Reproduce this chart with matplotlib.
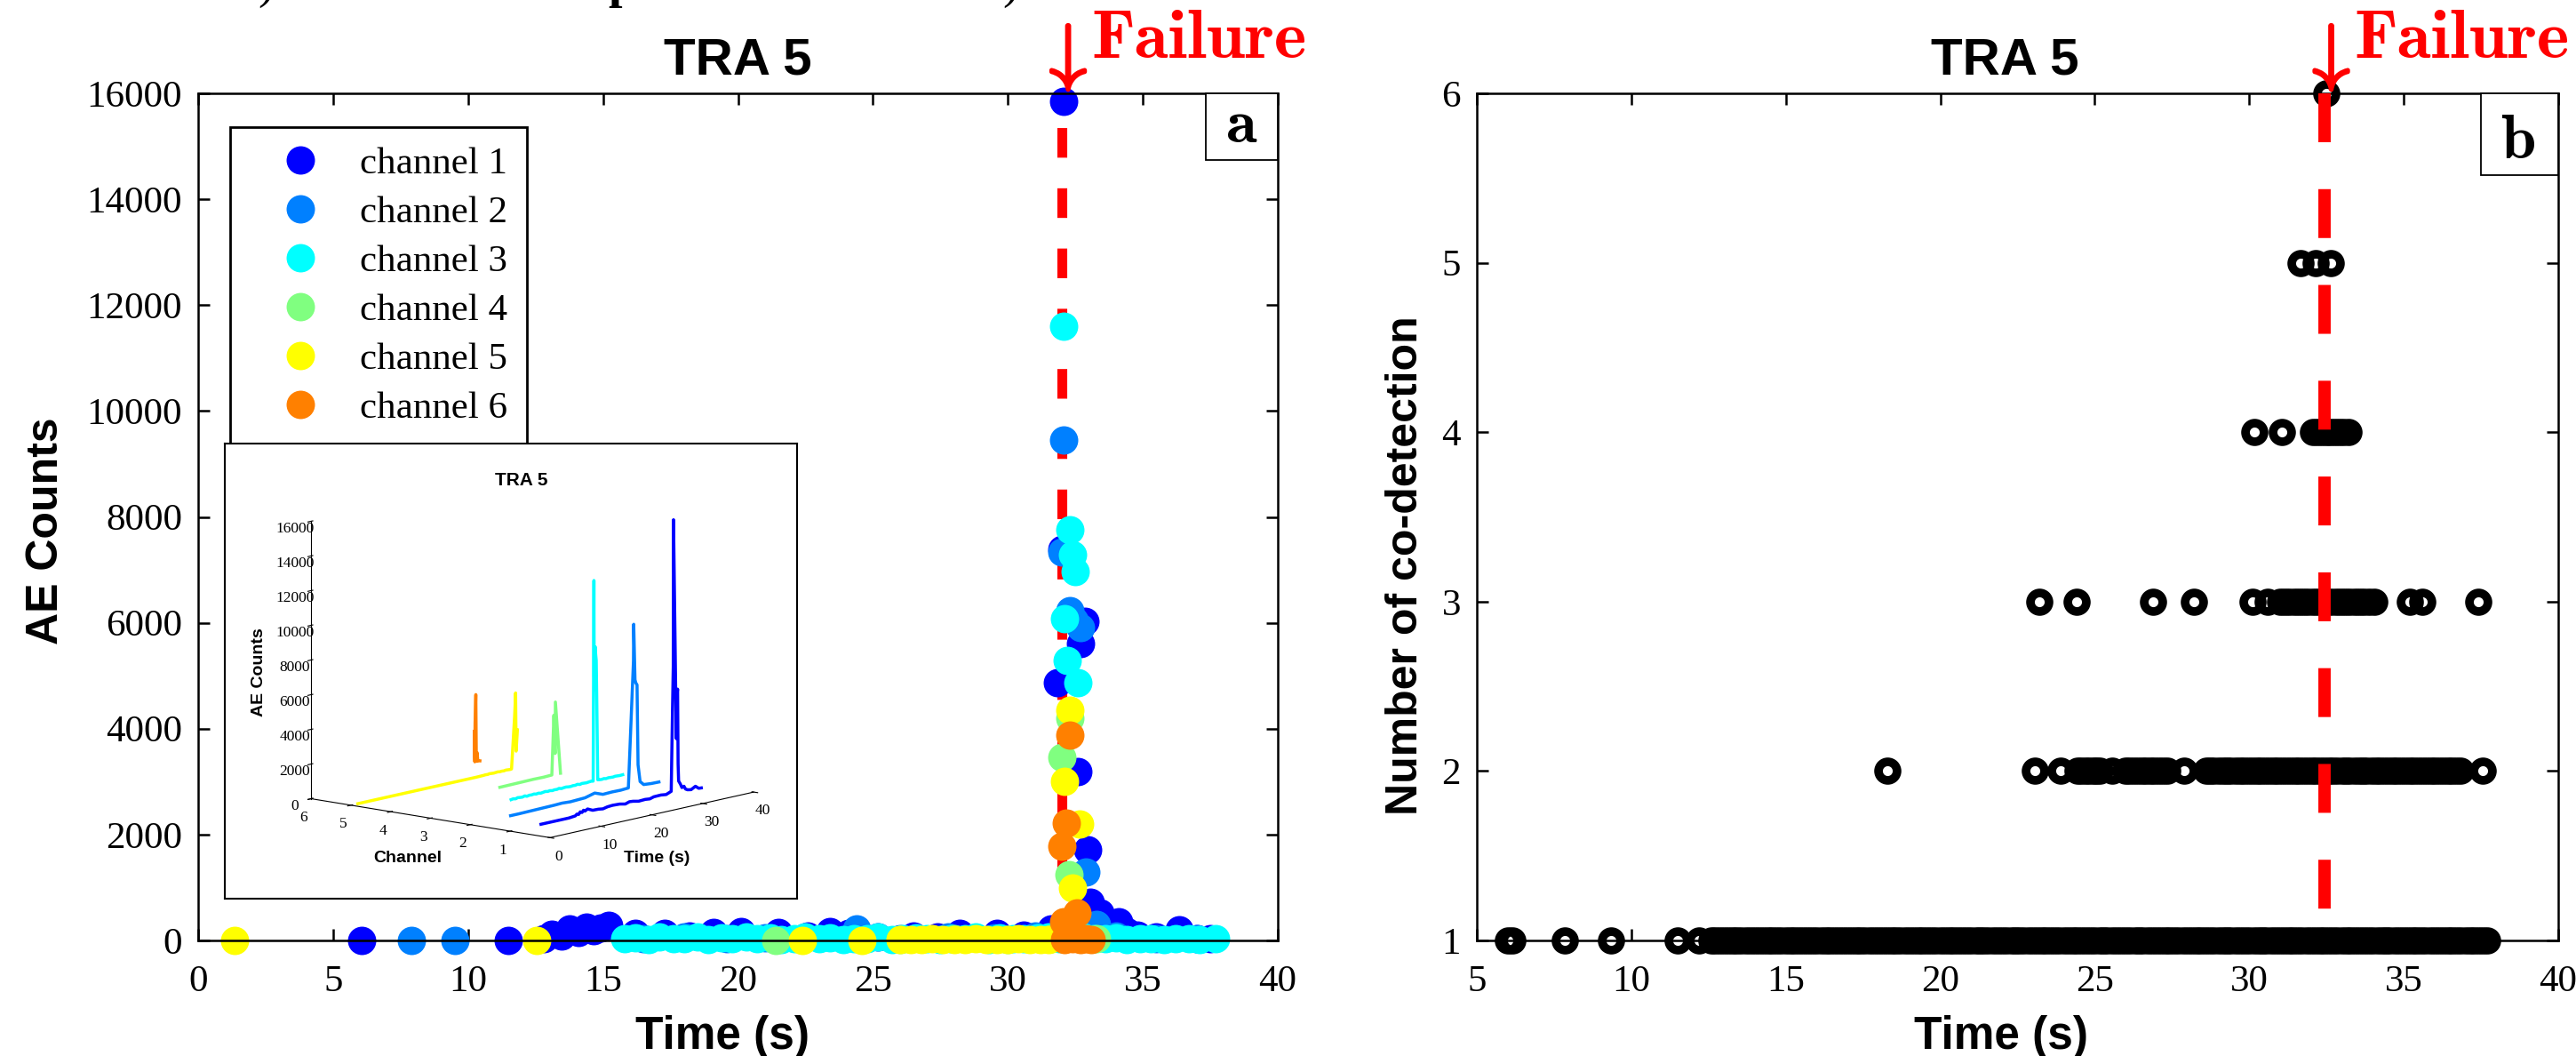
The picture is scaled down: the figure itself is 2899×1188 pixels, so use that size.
import numpy as np
import matplotlib
matplotlib.use('Agg')
import matplotlib.pyplot as plt
import matplotlib.transforms as mtransforms
from matplotlib.patches import Rectangle
from matplotlib import patheffects

plt.rcParams['font.family'] = ['Liberation Serif', 'DejaVu Serif']
plt.rcParams['mathtext.fontset'] = 'cm'

W, H = 2899, 1188

channel_names = ['channel 1', 'channel 2', 'channel 3', 'channel 4', 'channel 5', 'channel 6']
channel_colors = ['#0000ff', '#0080ff', '#00ffff', '#80ff80', '#ffff00', '#ff8000']

# AE counts per channel: event time (s) and counts
ch1_time = [6.05, 11.5, 12.8, 13.1, 13.45, 13.75, 14.1, 14.4, 14.65, 14.9, 15.2, 16.2, 17.3,
            18.2, 19.1, 20.1, 21.5, 22.6, 23.4, 24.1, 25.2, 26.5, 27.4, 28.2, 29.6, 30.6,
            31.6, 31.85, 32.0, 32.05, 32.6, 32.7, 32.85, 32.95, 33.05, 33.4, 33.7, 34.1,
            34.4, 34.8, 35.5, 36.35, 37.0, 37.5]
ch1_counts = [0, 0, 40, 120, 80, 210, 150, 260, 190, 230, 280, 140, 130,
              90, 150, 170, 150, 80, 160, 140, 70, 90, 60, 130, 140, 100,
              220, 4870, 7390, 15850, 3190, 5610, 6030, 1710, 720, 520, 300, 350,
              170, 100, 60, 200, 40, 30]

ch2_time = [7.9, 9.5, 16.5, 18.0, 19.6, 21.0, 22.5, 24.4, 26.0, 27.8, 29.5, 31.0,
            32.0, 32.05, 32.3, 32.45, 32.7, 32.9, 33.3, 34.0, 35.5, 37.0]
ch2_counts = [0, 0, 40, 60, 30, 50, 70, 220, 40, 60, 50, 80,
              7340, 9450, 6230, 6050, 5910, 1290, 300, 80, 40, 30]

ch3_time = [15.8, 16.2, 16.7, 17.1, 17.6, 18.0, 18.5, 18.9, 19.4, 19.8, 20.3, 20.7, 21.2,
            21.6, 22.1, 22.5, 23.0, 23.4, 23.9, 24.3, 24.8, 25.2, 25.7, 26.1, 26.6, 27.0,
            27.5, 27.9, 28.4, 28.8, 29.3, 29.7, 30.2, 30.6, 31.1, 31.5, 31.9, 32.05, 32.1,
            32.2, 32.3, 32.4, 32.5, 32.6, 32.8, 33.2, 33.6, 34.0, 34.4, 34.9, 35.3, 35.8,
            36.2, 36.7, 37.1, 37.7]
ch3_counts = [30, 50, 20, 60, 40, 30, 70, 20, 50, 40, 60, 30, 50,
              20, 40, 60, 30, 50, 20, 40, 30, 60, 20, 40, 50, 30,
              20, 40, 30, 60, 20, 50, 40, 30, 50, 60, 40, 11600, 6080,
              5290, 7760, 7290, 6970, 4870, 60, 40, 30, 50, 20, 40, 30, 20,
              40, 30, 20, 30]

ch4_time = [21.4, 26.0, 28.0, 30.0, 31.6, 32.0, 32.25, 32.3, 33.3]
ch4_counts = [0, 20, 30, 20, 40, 3460, 1240, 4200, 30]

ch5_time = [1.35, 12.55, 22.4, 24.6, 26.0, 26.4, 26.8, 27.2, 27.6, 28.0, 28.4, 28.8, 29.2,
            29.6, 30.0, 30.4, 30.8, 31.2, 31.5, 32.1, 32.3, 32.4, 32.65]
ch5_counts = [0, 0, 0, 0, 10, 20, 10, 30, 20, 10, 20, 30, 10,
              20, 10, 30, 20, 10, 20, 3010, 4350, 990, 2200]

ch6_time = [32.0, 32.05, 32.1, 32.15, 32.3, 32.4, 32.55, 32.7, 32.9, 33.1]
ch6_counts = [1780, 350, 20, 2220, 3880, 30, 520, 20, 30, 10]

all_times = [ch1_time, ch2_time, ch3_time, ch4_time, ch5_time, ch6_time]
all_counts = [ch1_counts, ch2_counts, ch3_counts, ch4_counts, ch5_counts, ch6_counts]

failure_a = 32.0
failure_b = 32.45

# number of co-detections: event times for each level
codet1_time = [6.0, 6.15, 7.85, 9.35, 11.5, 12.2, 12.6, 12.85, 13.15, 13.4, 13.7, 14.0, 14.3,
               14.55, 14.85, 15.15, 15.4, 15.7, 16.0, 16.3, 16.55, 16.85, 17.15, 17.4, 17.7,
               18.0, 18.3, 18.55, 18.85, 19.15, 19.4, 19.7, 20.0, 20.3, 20.55, 20.85, 21.15,
               21.4, 21.7, 22.0, 22.3, 22.55, 22.85, 23.15, 23.4, 23.7, 24.0, 24.3, 24.55,
               24.85, 25.15, 25.4, 25.7, 26.0, 26.3, 26.55, 26.85, 27.15, 27.4, 27.7, 28.0,
               28.3, 28.55, 28.85, 29.15, 29.4, 29.7, 30.0, 30.3, 30.55, 30.85, 31.15, 31.4,
               31.7, 32.0, 32.3, 32.55, 32.85, 33.15, 33.4, 33.7, 34.0, 34.3, 34.55, 34.85,
               35.15, 35.4, 35.7, 36.0, 36.3, 36.55, 36.85, 37.15, 37.4, 37.7,
               12.72, 13.0, 13.28, 13.55, 13.85, 14.15, 14.42, 14.7, 15.0, 15.28, 15.55,
               15.85, 16.15, 16.42, 16.7, 17.0, 17.28, 17.55, 17.85, 18.15, 18.42, 18.7,
               19.0, 19.28, 19.55, 19.85, 20.15, 20.42, 20.7, 21.0, 21.28, 21.55, 21.85,
               22.15, 22.42, 22.7, 23.0, 23.28, 23.55, 23.85, 24.15, 24.42, 24.7, 25.0,
               25.28, 25.55, 25.85, 26.15, 26.42, 26.7, 27.0, 27.28, 27.55, 27.85, 28.15,
               28.42, 28.7, 29.0, 29.28, 29.55, 29.85, 30.15, 30.42, 30.7, 31.0, 31.28,
               31.55, 31.85, 32.15, 32.42, 32.7, 33.0, 33.28, 33.55, 33.85, 34.15, 34.42,
               34.7, 35.0, 35.28, 35.55, 35.85, 36.15, 36.42, 36.7, 37.0, 37.28, 37.55]
codet2_time = [18.3, 23.05, 23.9, 24.45, 24.7, 24.95, 25.15, 25.55, 26.0, 26.25, 26.55, 26.8,
               27.05, 27.35, 27.9, 28.6, 28.85, 29.15, 29.4, 29.7, 29.95, 30.25, 30.5, 30.8,
               31.05, 31.35, 31.6, 31.9, 32.15, 32.45, 32.7, 33.0, 33.25, 33.55, 33.8, 34.1,
               34.35, 34.65, 34.9, 35.2, 35.45, 35.75, 36.0, 36.3, 36.55, 36.85, 37.55,
               24.57, 24.82, 25.05, 26.12, 26.4, 26.67, 26.92, 27.2, 28.72, 29.0, 29.28,
               29.55, 29.82, 30.1, 30.38, 30.65, 30.92, 31.2, 31.48, 31.75, 32.02, 32.3,
               32.58, 32.85, 33.12, 33.4, 33.68, 33.95, 34.22, 34.5, 34.78, 35.05, 35.32,
               35.6, 35.88, 36.15, 36.42, 36.7]
codet3_time = [23.2, 24.4, 26.9, 28.2, 30.1, 30.6, 31.0, 31.3, 31.6, 31.9, 32.2, 32.5, 32.8,
               33.1, 33.4, 33.7, 34.05, 35.2, 35.6, 37.4,
               31.15, 31.45, 31.75, 32.05, 32.35, 32.65, 32.95, 33.25, 33.55, 33.87]
codet4_time = [30.15, 31.05, 32.05, 32.35, 32.6, 32.9, 33.2, 32.2, 32.48, 32.75, 33.05]
codet5_time = [31.65, 32.15, 32.65]
codet6_time = [32.5]
codet_times = [codet1_time, codet2_time, codet3_time, codet4_time, codet5_time, codet6_time]
codet_levels = [1, 2, 3, 4, 5, 6]


def px_rect(x0, y0, x1, y1):
    return [x0 / W, 1 - y1 / H, (x1 - x0) / W, (y1 - y0) / H]


sans = ['Liberation Sans', 'DejaVu Sans']
fig = plt.figure(figsize=(W / 100, H / 100), dpi=100)

ax_a = fig.add_axes(px_rect(223, 105, 1438, 1058))
ax_b = fig.add_axes(px_rect(1662, 105, 2879, 1058))

# ---- panel a ----
ax_a.plot([failure_a, failure_a], [0, 16000], color='red', lw=8, dashes=(3.0, 3.1),
          zorder=1, clip_on=False)
for t, c, col, name in zip(all_times, all_counts, channel_colors, channel_names):
    ax_a.plot(t, c, 'o', ms=23, mfc=col, mec=col, mew=0, ls='none', label=name,
              clip_on=False, zorder=2)
ax_a.set_xlim(0, 40)
ax_a.set_ylim(0, 16000)
ax_a.set_xticks(range(0, 41, 5))
ax_a.set_yticks(range(0, 16001, 2000))

leg = ax_a.legend(loc='upper left', bbox_to_anchor=(259 / W, 1 - 143 / H),
                  bbox_transform=fig.transFigure, borderaxespad=0, fontsize=31,
                  frameon=True, fancybox=False, edgecolor='black', framealpha=1,
                  handlelength=2.65, handletextpad=0.25, labelspacing=0.37,
                  borderpad=0.5, markerscale=1.0)
leg.get_frame().set_linewidth(2)

# ---- panel b ----
for t, lvl in zip(codet_times, codet_levels):
    ax_b.plot(t, [lvl] * len(t), 'o', ms=15, mfc='none', mec='black', mew=7,
              ls='none', clip_on=False, zorder=2)
ax_b.plot([failure_b, failure_b], [6, 1], color='red', lw=10, dashes=(3.96, 3.8),
          zorder=3, clip_on=False)
ax_b.set_xlim(5, 40)
ax_b.set_ylim(1, 6)
ax_b.set_xticks(range(5, 41, 5))
ax_b.set_yticks(range(1, 7))

for ax in (ax_a, ax_b):
    ax.tick_params(direction='in', length=9.5, width=1.8, top=True, right=True,
                   labelsize=31)
    ax.tick_params(axis='x', pad=20)
    ax.tick_params(axis='y', pad=13)
    for s in ax.spines.values():
        s.set_linewidth(1.8)

# titles, labels
for xc in (830, 2256):
    fig.text(xc / W, 1 - 83 / H, 'TRA 5', ha='center', va='baseline', fontsize=42,
             fontweight='bold', family=sans)
fig.text(813 / W, 1 - 1180 / H, 'Time (s)', ha='center', va='baseline', fontsize=37,
         fontweight='bold', family=sans)
fig.text(2252 / W, 1 - 1180 / H, 'Time (s)', ha='center', va='baseline', fontsize=37,
         fontweight='bold', family=sans)
fig.text(52 / W, 1 - 597 / H, 'AE Counts', ha='center', va='center', rotation=90,
         fontsize=36, fontweight='bold', family=sans)
fig.text(1582 / W, 1 - 636 / H, 'Number of co-detection', ha='center', va='center',
         rotation=90, fontsize=36, fontweight='bold', family=sans)

# failure markers
thick = [patheffects.withStroke(linewidth=2.5, foreground='red')]
for ax, tf in ((ax_a, failure_a), (ax_b, failure_b)):
    blend = mtransforms.blended_transform_factory(ax.transData, ax.transAxes)
    ax.text(tf, 1.084, r'$\downarrow$', transform=blend, ha='center', va='top',
            fontsize=60, color='red', clip_on=False, path_effects=thick)
    ax.annotate('Failure', xy=(tf, 1.0), xycoords=blend, xytext=(24, 29),
                textcoords='offset points', ha='left', va='baseline', fontsize=56,
                color='red', family='cmb10', annotation_clip=False)

# panel letters
for ax, box, lx, ly, letter in ((ax_a, (0.9333, 0.9213, 0.0667, 0.0787), 0.9663, 0.9423, 'a'),
                                (ax_b, (0.9285, 0.9035, 0.0715, 0.0965), 0.9638, 0.9234, 'b')):
    ax.add_patch(Rectangle(box[:2], box[2], box[3], transform=ax.transAxes, fc='white',
                           ec='black', lw=1.3, zorder=5, clip_on=False))
    ax.text(lx, ly, letter, transform=ax.transAxes, ha='center', va='baseline',
            fontsize=51, family='cmb10', zorder=6)

# caption fragments cut at the top edge
fig.text(300 / W, 1 + 3 / H, ')', ha='center', va='baseline', fontsize=40)
fig.text(700 / W, 1 + 3 / H, 'p', ha='center', va='baseline', fontsize=40, fontweight='bold')
fig.text(1138 / W, 1 + 3 / H, ')', ha='center', va='baseline', fontsize=40)

# ---- inset: 3D view of the same data ----
frame = fig.add_axes(px_rect(253, 499, 897, 1011))
frame.set_xticks([])
frame.set_yticks([])
for s in frame.spines.values():
    s.set_linewidth(1.5)

ax3 = fig.add_axes(px_rect(304, 459, 879, 1034), projection='3d')
ax3.patch.set_alpha(0)
ax3.set_proj_type('ortho')
ax3.view_init(elev=11, azim=-139.5)
ax3.set_box_aspect((1, 1, 0.9))
for k, (t, c, col) in enumerate(zip(all_times, all_counts, channel_colors)):
    order = np.argsort(t, kind='stable')
    tt = np.asarray(t)[order]
    cc = np.asarray(c)[order]
    ax3.plot(tt, np.full(len(tt), k + 1), cc, color=col, lw=2.5)
ax3.set_xlim(0, 40)
ax3.set_ylim(0, 6)
ax3.set_zlim(0, 16000)
ax3.set_xticks(range(0, 41, 10))
ax3.set_yticks(range(1, 7))
ax3.set_zticks(range(0, 16001, 2000))
ax3.grid(False)
for axis in (ax3.xaxis, ax3.yaxis, ax3.zaxis):
    axis.set_pane_color((1, 1, 1, 0))
    axis.pane.set_edgecolor((1, 1, 1, 0))
    axis.line.set_linewidth(0.8)
ax3.tick_params(labelsize=12.5, pad=0)

fig.text(587 / W, 1 - 540 / H, 'TRA 5', ha='center', va='center', fontsize=15,
         fontweight='bold', family=sans)
fig.text(292 / W, 1 - 756 / H, 'AE Counts', ha='center', va='center', rotation=90,
         fontsize=14, fontweight='bold', family=sans)
fig.text(459 / W, 1 - 966 / H, 'Channel', ha='center', va='center', fontsize=14,
         fontweight='bold', family=sans)
fig.text(739 / W, 1 - 966 / H, 'Time (s)', ha='center', va='center', fontsize=14,
         fontweight='bold', family=sans)

fig.savefig('out.png', dpi=100)
